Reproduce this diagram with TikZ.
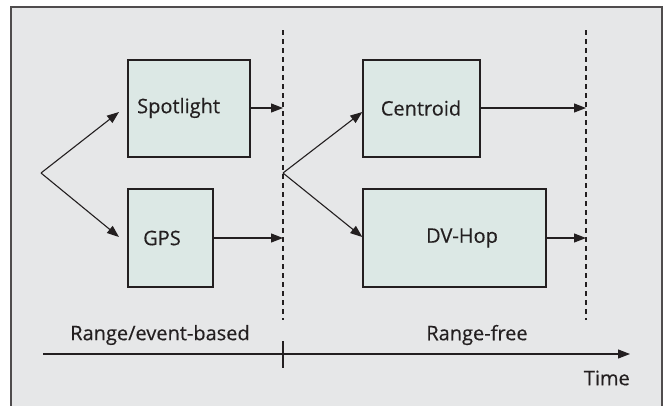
\documentclass[tikz,border=0pt]{standalone}
\usepackage{fontspec}
\setmainfont[FakeBold=0.35]{Open Sans}
\usetikzlibrary{arrows.meta}
\definecolor{bg}{HTML}{E6E7E8}
\definecolor{boxfill}{HTML}{DCE8E5}
\definecolor{ink}{HTML}{231F20}
\tikzset{
  blk/.style={draw=ink, line width=1.4pt, fill=boxfill, inner sep=0pt},
  arr/.style={draw=ink, line width=1.1pt, -{Triangle[length=12pt,width=9pt]}},
  divider/.style={draw=ink, line width=1.1pt, dash pattern=on 5pt off 4pt},
  lbl/.style={font=\fontsize{20}{22}\selectfont, text=ink, inner sep=0pt}
}
\begin{document}
\begin{tikzpicture}[x=1pt,y=-1pt]
\useasboundingbox (0,0) rectangle (669,405);
\fill[white] (0,0) rectangle (669,405);
\draw[draw=ink!80, line width=1.2pt, fill=bg] (11,410) -- (11,7) -- (662,7) -- (662,410);
% boxes
\node[blk, minimum width=122pt, minimum height=97pt] (spot) at (189,108.5) {};
\node[lbl, anchor=west] (spott) at (137,108) {Spotlight};
\node[blk, minimum width=85pt, minimum height=98pt] (gps) at (170.5,238) {};
\node[lbl, anchor=west] (gpst) at (143,238) {GPS};
\node[blk, minimum width=117pt, minimum height=97pt] (cen) at (421.5,108.5) {};
\node[lbl] (cent) at (421,108) {Centroid};
\node[blk, minimum width=183pt, minimum height=98pt] (dv) at (454.5,238) {};
\node[lbl] (dvt) at (462,238) {DV-Hop};
% dividers
\coordinate (d1t) at (283,30);
\coordinate (d1b) at (283,320);
\coordinate (d2t) at (586,30);
\coordinate (d2b) at (586,320);
\draw[divider] (d1t) -- (d1b);
\draw[divider] (d2t) -- (d2b);
% forks
\coordinate (f1) at (41,173);
\coordinate (f2) at (283,173);
\draw[arr] (f1) -- (119,112);
\draw[arr] (f1) -- (119,237);
\draw[arr] (f2) -- (cen.west |- 0,112);
\draw[arr] (f2) -- (dv.west |- 0,237);
% outputs
\coordinate (o1) at (283,108);
\coordinate (o2) at (283,238);
\coordinate (o3) at (586,108);
\coordinate (o4) at (586,238);
\draw[arr] (spot.east |- o1) -- (o1);
\draw[arr] (gps.east |- o2) -- (o2);
\draw[arr] (cen.east |- o3) -- (o3);
\draw[arr] (dv.east |- o4) -- (o4);
% time axis
\coordinate (ts) at (43,354);
\coordinate (te) at (630,354);
\draw[arr] (ts) -- (te);
\draw[draw=ink, line width=1.1pt] (283,341) -- (283,368);
\node[lbl] (l1) at (160,335) {Range/event-based};
\node[lbl] (l2) at (477,335) {Range-free};
\node[lbl, anchor=east] (l3) at (630,378) {Time};
\end{tikzpicture}
\end{document}
